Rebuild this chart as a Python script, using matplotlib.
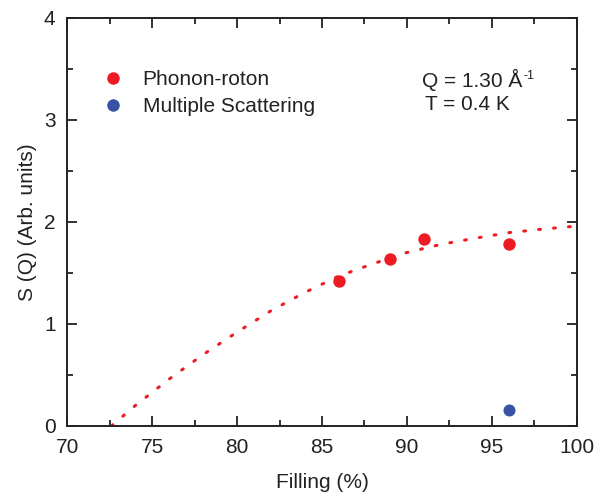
import matplotlib
matplotlib.use("Agg")
import matplotlib.pyplot as plt
from matplotlib.ticker import MultipleLocator
from matplotlib.lines import Line2D

plt.rcParams['font.family'] = ['Liberation Sans', 'DejaVu Sans']

# Data
phonon_x = [86, 89, 91, 96]
phonon_y = [1.425, 1.64, 1.83, 1.785]
multi_x = [96]
multi_y = [0.157]

fit_x = [72.6, 74, 76, 78, 80, 82, 84, 86, 88, 90, 92, 94, 96, 98, 100]
fit_y = [0.0, 0.20, 0.46, 0.70, 0.92, 1.13, 1.31, 1.47, 1.59, 1.70, 1.78, 1.84, 1.895, 1.93, 1.96]

RED = '#ED1C24'
BLUE = '#3953A4'
FS = 15

fig = plt.figure(figsize=(6.07, 4.93), dpi=100)
ax = fig.add_axes([0.111, 0.136, 0.839, 0.8276])

ax.plot(fit_x, fit_y, color=RED, lw=2.2, dashes=(0.6, 4.3), dash_capstyle='round')
ax.scatter(phonon_x, phonon_y, s=80, color=RED, zorder=3, linewidths=0)
ax.scatter(multi_x, multi_y, s=75, color=BLUE, zorder=3, linewidths=0)

ax.set_xlim(70, 100)
ax.set_ylim(0, 4)
ax.xaxis.set_major_locator(MultipleLocator(5))
ax.xaxis.set_minor_locator(MultipleLocator(2.5))
ax.yaxis.set_major_locator(MultipleLocator(1))
ax.yaxis.set_minor_locator(MultipleLocator(0.5))
ax.tick_params(which='both', direction='in', top=True, right=True, width=1.3, colors='#222222', labelcolor='#222222')
ax.tick_params(which='major', length=7, labelsize=FS, pad=8.5)
ax.tick_params(which='minor', length=4.5)
for sp in ax.spines.values():
    sp.set_linewidth(1.4)
    sp.set_color('#222222')

ax.set_xlabel('Filling (%)', fontsize=FS, labelpad=12, color='#222222')
ax.set_ylabel('S (Q) (Arb. units)', fontsize=FS, labelpad=5, color='#222222')

handles = [Line2D([], [], marker='o', ls='none', color=RED, markersize=9, markeredgewidth=0),
           Line2D([], [], marker='o', ls='none', color=BLUE, markersize=9, markeredgewidth=0)]
ax.legend(handles, ['Phonon-roton', 'Multiple Scattering'], loc='upper left',
          bbox_to_anchor=(0.052, 0.892), frameon=False, fontsize=FS,
          handletextpad=0.94, labelspacing=0.36, borderaxespad=0, handlelength=1.0,
          labelcolor='#222222')

qt = ax.text(0.696, 0.8316, 'Q = 1.30 Å', transform=ax.transAxes, fontsize=FS,
             va='baseline', color='#222222')
ax.annotate('-1', xy=(1.0, 1.0), xycoords=qt, xytext=(1.0, -1.0), textcoords='offset points',
            fontsize=9, va='top', ha='left', color='#222222')
ax.text(0.703, 0.7745, 'T = 0.4 K', transform=ax.transAxes, fontsize=FS,
        va='baseline', color='#222222')

fig.savefig('out.png', dpi=100)
